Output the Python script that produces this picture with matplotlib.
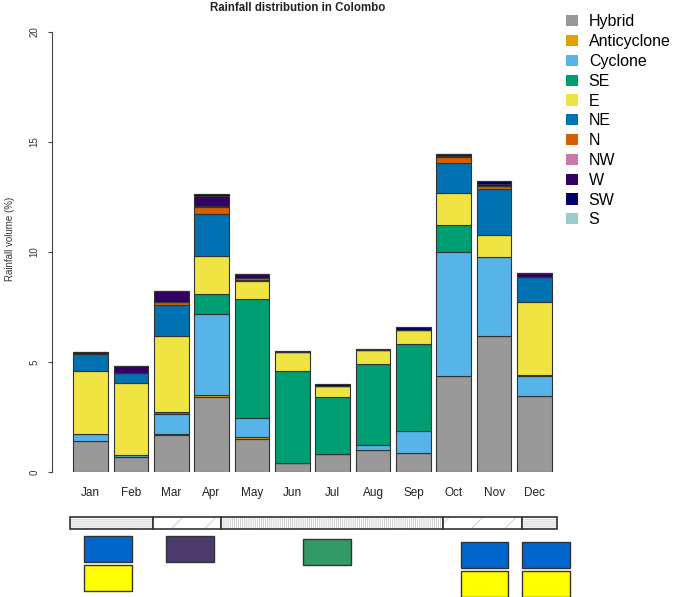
import numpy as np
import matplotlib
matplotlib.use("Agg")
import matplotlib.pyplot as plt
from matplotlib.patches import Rectangle, Patch

plt.rcParams["font.family"] = ["Liberation Sans", "DejaVu Sans"]
plt.rcParams["hatch.linewidth"] = 0.5

months = ["Jan", "Feb", "Mar", "Apr", "May", "Jun",
          "Jul", "Aug", "Sep", "Oct", "Nov", "Dec"]
types = ["Hybrid", "Anticyclone", "Cyclone", "SE", "E", "NE",
         "N", "NW", "W", "SW", "S"]
colours = ["#999999", "#E69F00", "#56B4E9", "#009E73", "#F0E442", "#0072B2",
           "#D55E00", "#CC79A7", "#330066", "#000066", "#99CCCC"]

# rainfall volume (%) per type, one value per month
hybrid      = [1.41, 0.70, 1.68, 3.42, 1.48, 0.39, 0.82, 1.00, 0.85, 4.36, 6.20, 3.45]
anticyclone = [0.00, 0.00, 0.05, 0.10, 0.13, 0.00, 0.00, 0.00, 0.00, 0.00, 0.00, 0.00]
cyclone     = [0.32, 0.06, 0.89, 3.66, 0.83, 0.00, 0.00, 0.24, 1.01, 5.64, 3.59, 0.91]
se          = [0.00, 0.00, 0.09, 0.89, 5.41, 4.21, 2.57, 3.65, 3.94, 1.23, 0.00, 0.05]
e           = [2.87, 3.27, 3.49, 1.75, 0.85, 0.87, 0.52, 0.66, 0.65, 1.47, 1.00, 3.30]
ne          = [0.76, 0.45, 1.38, 1.91, 0.02, 0.00, 0.00, 0.00, 0.00, 1.36, 2.06, 1.14]
n           = [0.00, 0.00, 0.13, 0.30, 0.08, 0.00, 0.00, 0.00, 0.00, 0.24, 0.15, 0.00]
nw          = [0.00, 0.00, 0.02, 0.07, 0.00, 0.00, 0.00, 0.00, 0.00, 0.06, 0.00, 0.00]
w           = [0.11, 0.34, 0.51, 0.45, 0.20, 0.00, 0.00, 0.00, 0.00, 0.09, 0.10, 0.21]
sw          = [0.00, 0.00, 0.00, 0.09, 0.00, 0.03, 0.09, 0.03, 0.13, 0.00, 0.14, 0.00]
s           = [0.00] * 12
series = [hybrid, anticyclone, cyclone, se, e, ne, n, nw, w, sw, s]

# monsoon season band (edges in months from start of Jan) and hatch style
season_edges = [0, 2.04, 3.73, 9.24, 11.19, 12.05]
season_hatch = ["--------", "/", "||||||||", "/", "--------"]

# wind indicator boxes under the months
ind_centres = [0.43, 2.47, 5.86, 9.76, 11.29]
ind_offsets = [0.0, 0.0, 0.15, 0.29, 0.29]
ind_colours = [["#0066CC", "#FFFF00"], ["#4B3A6B"], ["#339966"],
               ["#0066CC", "#FFFF00"], ["#0066CC", "#FFFF00"]]

fig = plt.figure(figsize=(6.79, 5.97), dpi=100)
ax = fig.add_axes([52 / 679, 125 / 597, 506.7 / 679, 440 / 597])

x = np.arange(len(months))
bottom = np.zeros(len(months))
for vals, col in zip(series, colours):
    vals = np.array(vals)
    ax.bar(x, vals, width=0.86, bottom=bottom, color=col,
           edgecolor="#333333", linewidth=0.8)
    bottom += vals

ax.set_xlim(-0.954, 11.6)
ax.set_ylim(0, 20)
for side in ["top", "right", "bottom"]:
    ax.spines[side].set_visible(False)
ax.spines["left"].set_bounds(0, 20)
ax.spines["left"].set_color("#444444")
ax.set_yticks([0, 5, 10, 15, 20])
ax.tick_params(axis="y", labelsize=7, length=3.2, pad=6, color="#444444",
               labelcolor="#333333")
for lab in ax.get_yticklabels():
    lab.set_rotation(90)
    lab.set_va("center")
ax.set_xticks(x)
ax.set_xticklabels(months)
ax.tick_params(axis="x", length=0, labelsize=8.5, pad=10.5, labelcolor="#222222")

# season band
y0, y1 = -2.6, -2.03
for i in range(len(season_hatch)):
    a, b = season_edges[i] - 0.5, season_edges[i + 1] - 0.5
    ax.add_patch(Rectangle((a, y0), b - a, y1 - y0, facecolor="white",
                           edgecolor="#BEBEBE", linewidth=0,
                           hatch=season_hatch[i], clip_on=False))
    ax.add_patch(Rectangle((a, y0), b - a, y1 - y0, facecolor="none",
                           edgecolor="#333333", linewidth=1.2, clip_on=False))

# indicator boxes
bw, bh, gap = 1.18, 1.17, 0.14
for c, off, cols in zip(ind_centres, ind_offsets, ind_colours):
    top = -2.91 - off
    for k, col in enumerate(cols):
        yb = top - bh - k * (bh + gap)
        ax.add_patch(Rectangle((c - bw / 2, yb), bw, bh, facecolor=col,
                               edgecolor="#333333", linewidth=1.0,
                               clip_on=False))

fig.text(298 / 679, 1 - 8 / 597, "Rainfall distribution in Colombo",
         ha="center", va="center", fontsize=8.3, fontweight="bold",
         color="#222222")
fig.text(10 / 679, 1 - 239 / 597, "Rainfall volume (%)", rotation=90,
         ha="center", va="center", fontsize=7, color="#333333")

handles = [Patch(facecolor=c, edgecolor="none") for c in colours]
fig.legend(handles, types, loc="upper left",
           bbox_to_anchor=(560 / 679, 1 - 8 / 597), frameon=False,
           fontsize=11.5, handlelength=0.75, handleheight=0.7,
           handletextpad=0.65, labelspacing=0.3, borderaxespad=0)

fig.savefig("out.png", dpi=100)
